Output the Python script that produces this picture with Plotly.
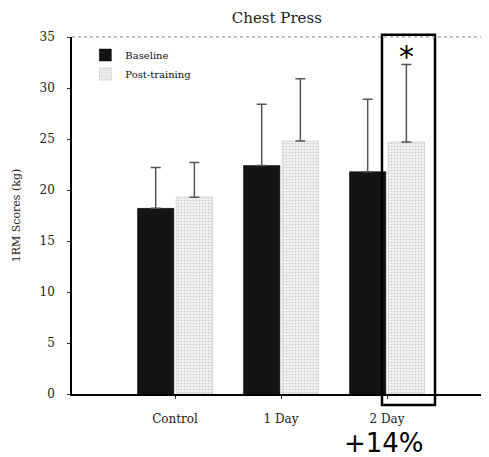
import plotly.graph_objects as go

categories = ["Control", "1 Day", "2 Day"]
baseline = [18.2, 22.4, 21.8]
baseline_err_top = [22.2, 28.4, 28.9]
post = [19.3, 24.8, 24.7]
post_err_top = [22.7, 30.9, 32.3]
y_ticks = [0, 5, 10, 15, 20, 25, 30, 35]

serif = "DejaVu Serif, Liberation Serif, serif"

fig = go.Figure()
fig.add_trace(go.Bar(
    x=categories, y=baseline, name="Baseline",
    marker=dict(color="#141414", line=dict(color="#000", width=0.5)),
    error_y=dict(type="data", symmetric=False,
                 array=[t - v for t, v in zip(baseline_err_top, baseline)],
                 arrayminus=[0] * len(baseline),
                 color="#555", thickness=1.5, width=5),
))
fig.add_trace(go.Bar(
    x=categories, y=post, name="Post-training",
    marker=dict(color="#eeeeee",
                line=dict(color="#bbb", width=0.5),
                pattern=dict(shape=".", fgcolor="#999", bgcolor="#f2f2f2",
                             size=3, solidity=0.25)),
    error_y=dict(type="data", symmetric=False,
                 array=[t - v for t, v in zip(post_err_top, post)],
                 arrayminus=[0] * len(post),
                 color="#555", thickness=1.5, width=5),
))

bargap = 0.27
off = (1 - bargap) / 4
hl_idx = 2
fig.add_shape(type="rect", xref="x", yref="paper",
              x0=hl_idx + off - 0.23, x1=hl_idx + off + 0.27,
              y0=-0.031, y1=1.006, line=dict(color="black", width=2.5),
              fillcolor="rgba(0,0,0,0)")
fig.add_shape(type="line", xref="paper", yref="paper", x0=0, x1=1, y0=1, y1=1,
              line=dict(color="#888", width=1, dash="dot"))
fig.add_annotation(x=hl_idx + off, y=33.1, xref="x", yref="y", text="*",
                   showarrow=False, yanchor="middle",
                   font=dict(family="DejaVu Sans", size=30, color="black"))
fig.add_annotation(x=hl_idx - 0.03, y=-0.137, xref="x", yref="paper", text="+14%",
                   showarrow=False, yanchor="middle",
                   font=dict(family="DejaVu Sans", size=26, color="black"))

# page has an 8px body margin: figure is sized/offset to compensate
fig.update_layout(
    width=481, height=449,
    margin=dict(l=64, r=0, t=29, b=63, autoexpand=False),
    paper_bgcolor="white", plot_bgcolor="white",
    barmode="group", bargap=bargap, bargroupgap=0.06,
    title=dict(text="Chest Press", x=0.559, xanchor="center", y=0.978, yanchor="middle",
               font=dict(family=serif, size=15, color="#222")),
    legend=dict(x=0.032, y=0.99, xanchor="left", yanchor="top",
                font=dict(family=serif, size=10, color="#111"),
                bgcolor="rgba(0,0,0,0)", tracegroupgap=0),
    font=dict(family=serif, color="#111"),
    showlegend=True,
)
fig.update_xaxes(range=[-0.972, 2.962], showline=True, linecolor="black", linewidth=1.5,
                 ticks="outside", ticklen=3, tickcolor="#333", showgrid=False,
                 tickfont=dict(family=serif, size=12, color="#222"),
                 ticklabelstandoff=10, automargin=False)
fig.update_yaxes(range=[0, 35], tickvals=y_ticks, showline=True, linecolor="black",
                 linewidth=1.5, ticks="outside", ticklen=3, tickcolor="#333",
                 showgrid=False, zeroline=False, automargin=False,
                 tickfont=dict(family=serif, size=12, color="#222"),
                 ticklabelstandoff=10,
                 title=dict(text="1RM Scores (kg)", standoff=17,
                            font=dict(family=serif, size=11, color="#222")))

fig.write_html("out.html")
